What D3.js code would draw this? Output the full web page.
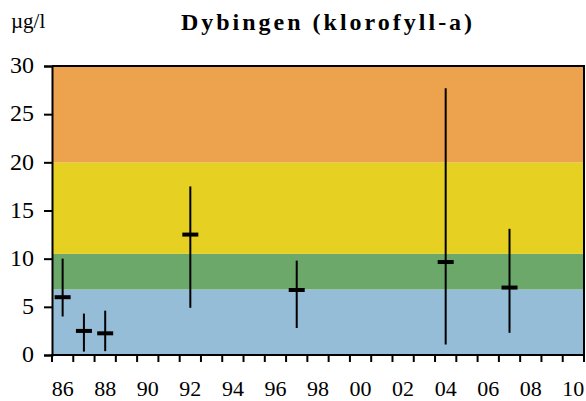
<!DOCTYPE html>
<meta charset="utf-8">
<script src="https://d3js.org/d3.v7.min.js"></script>
<html>
<head>
  <title>Dybingen (klorofyll-a)</title>
  <style>
    body { margin: 0; background: #fff; }
    text { font-family: "Liberation Serif", "Times New Roman", serif; }
  </style>
</head>
<body>
  <div id="my_dataviz"></div>
</body>
</html>

<script>
  // years on the axis (one band per year) and tick labels
  var years = d3.range(1986, 2011);
  var yTicks = [0, 5, 10, 15, 20, 25, 30];

  // measurements: year, mean, min, max
  var obsYears = [1986, 1987, 1988, 1992, 1997, 2004, 2007];
  var obsMean  = [6.0, 2.5, 2.25, 12.5, 6.75, 9.65, 7.0];
  var obsMin   = [4.0, 0.35, 0.4, 4.9, 2.8, 1.1, 2.3];
  var obsMax   = [10.0, 4.3, 4.6, 17.5, 9.8, 27.7, 13.1];

  // classification bands
  var bandLow  = [0, 6.8, 10.5, 20];
  var bandHigh = [6.8, 10.5, 20, 30];
  var bandColors = ["#96bdd7", "#6ba86a", "#e6d021", "#eda24d"];

  var margin = {top: 66, right: 2, bottom: 46, left: 52},
      width = 586 - margin.left - margin.right,
      height = 401 - margin.top - margin.bottom;

  var svg = d3.select("#my_dataviz")
    .append("svg")
      .attr("width", 586)
      .attr("height", 401)
    .append("g")
      .attr("transform", "translate(" + margin.left + "," + margin.top + ")");

  var x = d3.scaleBand()
    .domain(years)
    .range([0, width])
    .padding(0);

  var y = d3.scaleLinear()
    .domain([0, 30])
    .range([height, 0]);

  // background bands
  svg.selectAll(".band")
    .data(bandLow)
    .enter()
    .append("rect")
      .attr("x", 0)
      .attr("width", width)
      .attr("y", function(d, i) { return y(bandHigh[i]); })
      .attr("height", function(d, i) { return y(d) - y(bandHigh[i]); })
      .style("fill", function(d, i) { return bandColors[i]; });

  // frame (top and right)
  svg.append("path")
    .attr("d", "M0,0H" + width + "V" + height)
    .style("fill", "none")
    .style("stroke", "black")
    .style("stroke-width", 2);

  // Y axis
  var yAxis = svg.append("g")
    .call(d3.axisLeft(y).tickValues(yTicks).tickSize(8).tickPadding(10));
  yAxis.select(".domain").style("stroke-width", 2);
  yAxis.selectAll(".tick line").style("stroke-width", 2);
  yAxis.selectAll("text")
    .style("font-size", "24px")
    .style("font-family", "Liberation Serif, serif")
    .attr("dy", "0.28em")
    .attr("fill", "#000");

  // X axis: ticks on band edges, labels every other year in band centre
  var edges = d3.range(0, years.length + 1);
  var xAxis = svg.append("g")
    .attr("transform", "translate(0," + height + ")");
  xAxis.append("line")
    .attr("x1", -1).attr("x2", width + 1)
    .style("stroke", "black").style("stroke-width", 2);
  xAxis.selectAll(".xt")
    .data(edges)
    .enter()
    .append("line")
      .attr("x1", function(d) { return d * x.step(); })
      .attr("x2", function(d) { return d * x.step(); })
      .attr("y1", 0).attr("y2", 7)
      .style("stroke", "black").style("stroke-width", 2);
  xAxis.selectAll(".xl")
    .data(years.filter(function(d) { return d % 2 === 0; }))
    .enter()
    .append("text")
      .attr("x", function(d) { return x(d) + x.bandwidth() / 2; })
      .attr("y", 41)
      .attr("text-anchor", "middle")
      .style("font-size", "22px")
      .text(function(d) { return String(d % 100).padStart(2, "0"); });

  // min-max lines
  svg.selectAll(".range")
    .data(obsYears)
    .enter()
    .append("line")
      .attr("x1", function(d) { return x(d) + x.bandwidth() / 2; })
      .attr("x2", function(d) { return x(d) + x.bandwidth() / 2; })
      .attr("y1", function(d, i) { return y(obsMin[i]); })
      .attr("y2", function(d, i) { return y(obsMax[i]); })
      .style("stroke", "black")
      .style("stroke-width", 2);

  // mean markers
  svg.selectAll(".mean")
    .data(obsYears)
    .enter()
    .append("line")
      .attr("x1", function(d) { return x(d) + x.bandwidth() / 2 - 8; })
      .attr("x2", function(d) { return x(d) + x.bandwidth() / 2 + 8; })
      .attr("y1", function(d, i) { return y(obsMean[i]); })
      .attr("y2", function(d, i) { return y(obsMean[i]); })
      .style("stroke", "black")
      .style("stroke-width", 4);

  // title and unit
  d3.select("svg").append("text")
    .attr("x", 328)
    .attr("y", 30)
    .attr("text-anchor", "middle")
    .style("font-size", "24px")
    .style("font-weight", "bold")
    .style("letter-spacing", "3px")
    .text("Dybingen (klorofyll-a)");

  d3.select("svg").append("text")
    .attr("x", 11)
    .attr("y", 28)
    .style("font-size", "21px")
    .text("µg/l");
</script>
